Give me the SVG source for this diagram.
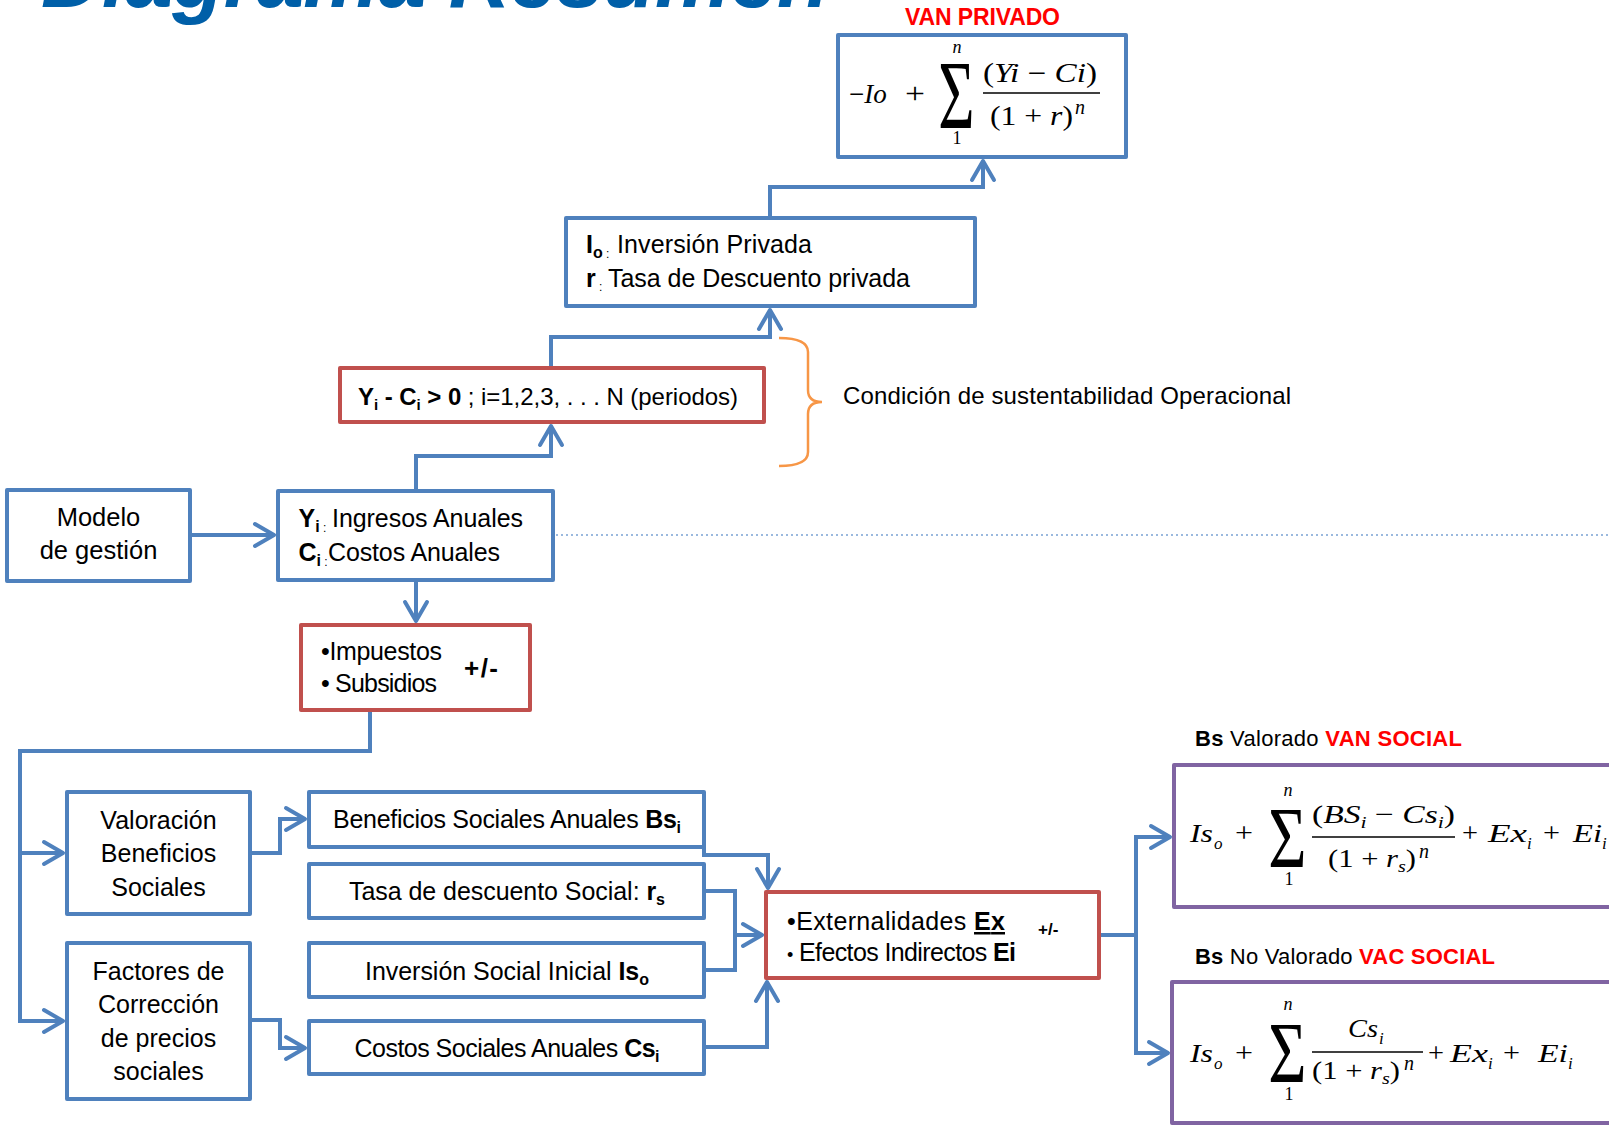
<svg xmlns="http://www.w3.org/2000/svg" width="1609" height="1126" viewBox="0 0 1609 1126">
<style>
.box{fill:#fff;stroke-width:4;stroke-linejoin:round}
.b{stroke:#4F81BD}
.r{stroke:#C0504D}
.p{stroke:#8064A2}
.t{font-family:"Liberation Sans",Arial,sans-serif;font-size:25px;fill:#000}
.c{text-anchor:middle}
.bd{font-weight:bold}
.red{fill:#FF0000;font-weight:bold}
.m{font-family:"Liberation Serif","Times New Roman",serif;font-style:italic;font-size:26px;fill:#000}
.u{font-style:normal}
.sig{font-family:"Liberation Serif","Times New Roman",serif;font-size:70px;text-anchor:middle;fill:#000}
.sm{font-family:"Liberation Serif","Times New Roman",serif;font-size:18px;text-anchor:middle;fill:#000}
.conn{fill:none;stroke:#4F81BD;stroke-width:4;stroke-linejoin:miter}
.arr{marker-end:url(#arr)}
.fl{stroke:#000;stroke-width:1.5}
</style>
<defs>
<marker id="arr" markerUnits="userSpaceOnUse" markerWidth="30" markerHeight="30" viewBox="-22 -15 30 30" refX="0" refY="0" orient="auto" overflow="visible">
<path d="M-19,-11 L0,0 L-19,11" fill="none" stroke="#4F81BD" stroke-width="4" stroke-linecap="round" stroke-linejoin="round"/>
</marker>
</defs>
<rect width="1609" height="1126" fill="#fff"/>

<text id="title" x="41" y="7" font-family="Liberation Sans,Arial,sans-serif" font-weight="bold" font-style="italic" font-size="85" fill="#005FA8" textLength="788">Diagrama Resumen</text>

<g id="connectors">
<path class="conn arr" d="M770,218 V187 H983 V161"/>
<path class="conn arr" d="M551,368 V337 H770 V310"/>
<path class="conn arr" d="M416,491 V456 H551 V426"/>
<path class="conn arr" d="M190,535 H274"/>
<path class="conn arr" d="M416,581 V621"/>
<path class="conn arr" d="M370,710 V751 H20 V1021 H63"/>
<path class="conn arr" d="M20,853 H63"/>
<path class="conn arr" d="M250,853 H280 V819 H305"/>
<path class="conn arr" d="M250,1020 H280 V1048 H305"/>
<path class="conn arr" d="M704,845 V855 H768 V888"/>
<path class="conn" d="M704,891 H735 V970 H704"/>
<path class="conn arr" d="M735,935 H762"/>
<path class="conn arr" d="M704,1047 H767 V982"/>
<path class="conn arr" d="M1099,935 H1136 V837 H1170"/>
<path class="conn arr" d="M1136,933 V1053 H1168"/>
<path d="M556,535 H1609" fill="none" stroke="#7BA3D4" stroke-width="1.5" stroke-dasharray="2 3"/>
</g>

<g id="brace">
<path d="M779,338 Q808,338 808,352 V390 Q808,402 822,402 Q808,402 808,414 V452 Q808,466 779,466" fill="none" stroke="#F79646" stroke-width="2.5"/>
<text class="t" x="843" y="404" style="font-size:24px" textLength="448">Condición de sustentabilidad Operacional</text>
</g>

<g id="van-privado">
<text class="t red c" x="982.5" y="25" style="font-size:23px" textLength="155">VAN PRIVADO</text>
<rect class="box b" x="838" y="35" width="288" height="122"/>
<text class="m" x="849" y="103" style="font-size:27px"><tspan class="u">−</tspan>Io</text>
<text class="m u" x="905" y="103" style="font-size:30px" textLength="20" lengthAdjust="spacingAndGlyphs">+</text>
<text class="sig" transform="translate(956.5,128) scale(0.89,1.4)">Σ</text>
<text class="sm" x="957" y="53" font-style="italic">n</text>
<text class="sm" x="957" y="144">1</text>
<text class="m" x="983" y="82" style="font-size:27px" textLength="114" lengthAdjust="spacingAndGlyphs"><tspan class="u">(</tspan>Yi <tspan class="u">−</tspan> Ci<tspan class="u">)</tspan></text>
<line class="fl" x1="983" y1="93" x2="1100" y2="93"/>
<text class="m" x="990" y="125" style="font-size:27px" textLength="83" lengthAdjust="spacingAndGlyphs"><tspan class="u">(1 + </tspan>r<tspan class="u">)</tspan></text>
<text class="m" x="1075" y="114" style="font-size:20px">n</text>
</g>

<g id="inversion-privada">
<rect class="box b" x="566" y="218" width="409" height="88"/>
<text class="t" x="586" y="253"><tspan class="bd">I</tspan><tspan class="bd" font-size="16" dy="5">o</tspan><tspan font-size="12"> :</tspan></text>
<text class="t" x="617" y="253" textLength="195">Inversión Privada</text>
<text class="t" x="586" y="287"><tspan class="bd">r</tspan><tspan font-size="12" dy="4"> :</tspan></text>
<text class="t" x="608" y="287" textLength="302">Tasa de Descuento privada</text>
</g>

<g id="condicion">
<rect class="box r" x="340" y="368" width="424" height="54"/>
<text class="t" x="358" y="405" style="font-size:24px" textLength="380"><tspan class="bd">Y</tspan><tspan class="bd" font-size="15" dy="5">i</tspan><tspan class="bd" dy="-5"> - C</tspan><tspan class="bd" font-size="15" dy="5">i</tspan><tspan class="bd" dy="-5"> &gt; 0</tspan>  ; i=1,2,3, . . . N (periodos)</text>
</g>

<g id="modelo">
<rect class="box b" x="7" y="490" width="183" height="91"/>
<text class="t c" x="98.5" y="526" style="font-size:25.5px">Modelo</text>
<text class="t c" x="98.5" y="559" style="font-size:25.5px">de gestión</text>
</g>

<g id="ingresos">
<rect class="box b" x="278" y="491" width="275" height="89"/>
<text class="t" x="298.5" y="527"><tspan class="bd">Y</tspan><tspan class="bd" font-size="16" dy="5">i</tspan><tspan font-size="12"> :</tspan></text>
<text class="t" x="332" y="527" textLength="191">Ingresos Anuales</text>
<text class="t" x="298.5" y="561"><tspan class="bd">C</tspan><tspan class="bd" font-size="16" dy="5">i</tspan><tspan font-size="12"> :</tspan></text>
<text class="t" x="328" y="561" textLength="172">Costos Anuales</text>
</g>

<g id="impuestos">
<rect class="box r" x="301" y="625" width="229" height="85"/>
<text class="t" x="321" y="660" textLength="121">•Impuestos</text>
<text class="t" x="321" y="692" textLength="116">• Subsidios</text>
<text class="t bd" x="464" y="677" style="font-size:26px" textLength="34">+/-</text>
</g>

<g id="valoracion">
<rect class="box b" x="67" y="792" width="183" height="122"/>
<text class="t c" x="158.5" y="829">Valoración</text>
<text class="t c" x="158.5" y="862">Beneficios</text>
<text class="t c" x="158.5" y="896">Sociales</text>
</g>

<g id="factores">
<rect class="box b" x="67" y="943" width="183" height="156"/>
<text class="t c" x="158.5" y="980">Factores de</text>
<text class="t c" x="158.5" y="1013">Corrección</text>
<text class="t c" x="158.5" y="1047">de precios</text>
<text class="t c" x="158.5" y="1080">sociales</text>
</g>

<g id="beneficios">
<rect class="box b" x="309" y="792" width="395" height="55"/>
<text class="t c" x="507" y="828" textLength="348">Beneficios Sociales Anuales <tspan class="bd">Bs</tspan><tspan class="bd" font-size="16" dy="5">i</tspan></text>
</g>

<g id="tasa">
<rect class="box b" x="309" y="864" width="395" height="54"/>
<text class="t c" x="507" y="900" textLength="316">Tasa de descuento Social: <tspan class="bd">r</tspan><tspan class="bd" font-size="16" dy="5">s</tspan></text>
</g>

<g id="inversion-social">
<rect class="box b" x="309" y="943" width="395" height="54"/>
<text class="t c" x="507" y="980" textLength="284">Inversión Social Inicial <tspan class="bd">Is</tspan><tspan class="bd" font-size="16" dy="5">o</tspan></text>
</g>

<g id="costos">
<rect class="box b" x="309" y="1021" width="395" height="53"/>
<text class="t c" x="507" y="1057" textLength="305">Costos Sociales Anuales <tspan class="bd">Cs</tspan><tspan class="bd" font-size="16" dy="5">i</tspan></text>
</g>

<g id="externalidades">
<rect class="box r" x="766" y="892" width="333" height="86"/>
<text class="t" x="787" y="930" textLength="218">•Externalidades <tspan class="bd" text-decoration="underline">Ex</tspan></text>
<text class="t" x="787" y="961" textLength="229"><tspan font-size="18">•</tspan> Efectos Indirectos <tspan class="bd">Ei</tspan></text>
<text class="t bd" x="1038" y="935" style="font-size:17px">+/-</text>
</g>

<g id="van-social">
<text class="t" x="1195" y="746" style="font-size:22px" textLength="267"><tspan class="bd">Bs</tspan> Valorado <tspan class="red">VAN SOCIAL</tspan></text>
<rect class="box p" x="1174" y="765" width="460" height="142"/>
<text class="m" x="1190" y="842" textLength="23" lengthAdjust="spacingAndGlyphs">Is</text>
<text class="m" x="1214" y="849" style="font-size:17px">o</text>
<text class="m u" x="1235" y="842" style="font-size:28px" textLength="18" lengthAdjust="spacingAndGlyphs">+</text>
<text class="sig" transform="translate(1287.5,867) scale(0.94,1.23)">Σ</text>
<text class="sm" x="1288" y="796" font-style="italic">n</text>
<text class="sm" x="1289" y="885">1</text>
<text class="m" x="1312" y="823" textLength="143" lengthAdjust="spacingAndGlyphs"><tspan class="u">(</tspan>BS<tspan font-size="17" dy="5">i</tspan><tspan dy="-5"> </tspan><tspan class="u">−</tspan> Cs<tspan font-size="17" dy="5">i</tspan><tspan class="u" dy="-5">)</tspan></text>
<line class="fl" x1="1312" y1="837" x2="1455" y2="837"/>
<text class="m" x="1328" y="867" textLength="88" lengthAdjust="spacingAndGlyphs"><tspan class="u">(1 + </tspan>r<tspan font-size="17" dy="5">s</tspan><tspan class="u" dy="-5">)</tspan></text>
<text class="m" x="1419" y="858" style="font-size:20px">n</text>
<text class="m u" x="1462" y="842" style="font-size:28px" textLength="16" lengthAdjust="spacingAndGlyphs">+</text>
<text class="m" x="1488" y="842" textLength="39" lengthAdjust="spacingAndGlyphs">Ex</text>
<text class="m" x="1527" y="849" style="font-size:17px">i</text>
<text class="m u" x="1543" y="842" style="font-size:28px" textLength="17" lengthAdjust="spacingAndGlyphs">+</text>
<text class="m" x="1573" y="842" textLength="29" lengthAdjust="spacingAndGlyphs">Ei</text>
<text class="m" x="1602" y="849" style="font-size:17px">i</text>
</g>

<g id="vac-social">
<text class="t" x="1195" y="964" style="font-size:22px" textLength="300"><tspan class="bd">Bs</tspan> No Valorado <tspan class="red">VAC SOCIAL</tspan></text>
<rect class="box p" x="1172" y="982" width="460" height="141"/>
<text class="m" x="1190" y="1062" textLength="23" lengthAdjust="spacingAndGlyphs">Is</text>
<text class="m" x="1214" y="1069" style="font-size:17px">o</text>
<text class="m u" x="1235" y="1062" style="font-size:28px" textLength="18" lengthAdjust="spacingAndGlyphs">+</text>
<text class="sig" transform="translate(1287.5,1082) scale(0.94,1.23)">Σ</text>
<text class="sm" x="1288" y="1010" font-style="italic">n</text>
<text class="sm" x="1289" y="1100">1</text>
<text class="m" x="1348" y="1037" textLength="30" lengthAdjust="spacingAndGlyphs">Cs</text>
<text class="m" x="1379" y="1044" style="font-size:17px">i</text>
<line class="fl" x1="1312" y1="1052" x2="1423" y2="1052"/>
<text class="m" x="1312" y="1079" textLength="88" lengthAdjust="spacingAndGlyphs"><tspan class="u">(1 + </tspan>r<tspan font-size="17" dy="5">s</tspan><tspan class="u" dy="-5">)</tspan></text>
<text class="m" x="1404" y="1070" style="font-size:20px">n</text>
<text class="m u" x="1428" y="1062" style="font-size:28px" textLength="16" lengthAdjust="spacingAndGlyphs">+</text>
<text class="m" x="1450" y="1062" textLength="38" lengthAdjust="spacingAndGlyphs">Ex</text>
<text class="m" x="1488" y="1069" style="font-size:17px">i</text>
<text class="m u" x="1503" y="1062" style="font-size:28px" textLength="17" lengthAdjust="spacingAndGlyphs">+</text>
<text class="m" x="1538" y="1062" textLength="30" lengthAdjust="spacingAndGlyphs">Ei</text>
<text class="m" x="1568" y="1069" style="font-size:17px">i</text>
</g>
</svg>
